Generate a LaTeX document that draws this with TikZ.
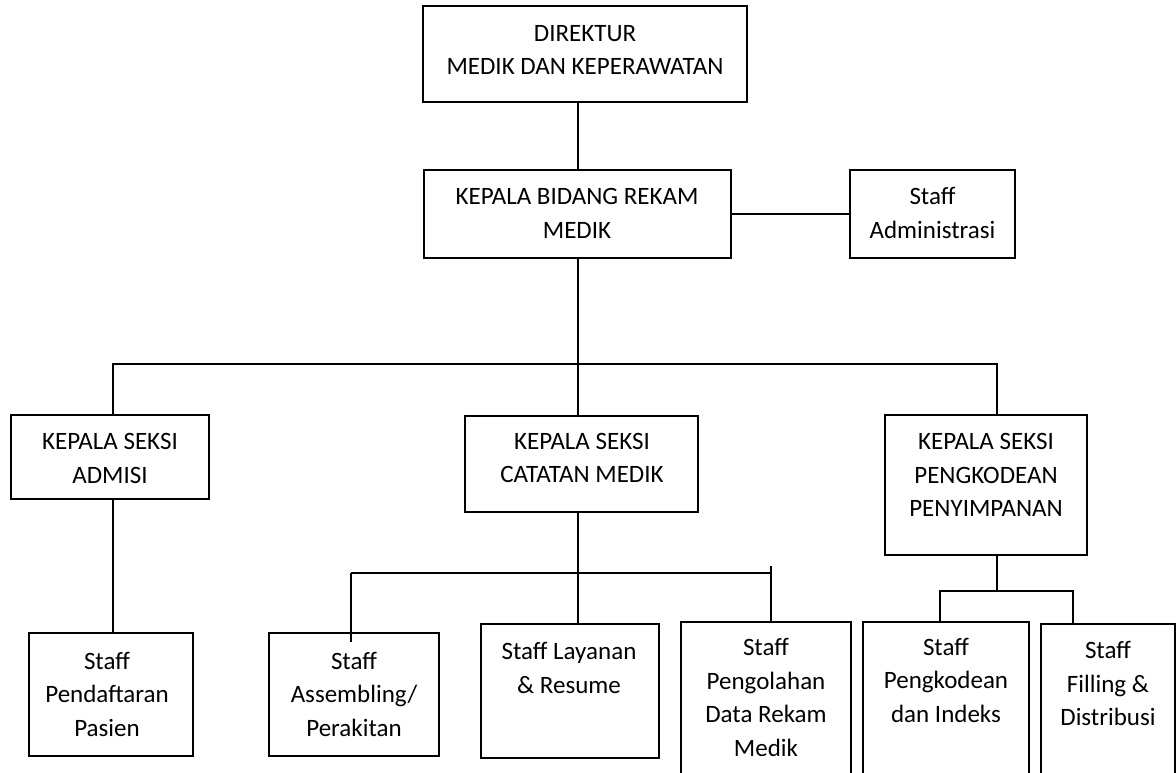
\documentclass[tikz,border=0pt]{standalone}
\usepackage{fontspec}
\setmainfont{Carlito}
\begin{document}
\begin{tikzpicture}[x=1pt,y=-1pt,
  box/.style={draw=black, line width=2pt, rectangle, inner sep=0pt},
  txt/.style={align=center, inner sep=0pt, text=black, font=\fontsize{25}{33.5}\selectfont},
  conn/.style={draw=black, line width=2pt}]
\useasboundingbox (0,0) rectangle (1176,773);
% boxes
\node[box, minimum width=324pt, minimum height=96pt] (dir) at (585,54) {};
\node[box, minimum width=307pt, minimum height=88pt] (kb) at (577.5,214) {};
\node[box, minimum width=165pt, minimum height=87pt] (sa) at (932.5,214) {};
\node[box, minimum width=198pt, minimum height=84pt] (adm) at (110,457) {};
\node[box, minimum width=233pt, minimum height=96pt] (cat) at (581.5,464) {};
\node[box, minimum width=202pt, minimum height=140pt] (pkd) at (986,485) {};
\node[box, minimum width=164pt, minimum height=123pt] (pnd) at (111,694.5) {};
\node[box, minimum width=170pt, minimum height=123pt] (asm) at (354,694.5) {};
\node[box, minimum width=178pt, minimum height=134pt] (lay) at (570,691) {};
\node[box, minimum width=170pt, minimum height=168pt] (pgl) at (766,706) {};
\node[box, minimum width=166pt, minimum height=168pt] (spk) at (946,706) {};
\node[box, minimum width=134pt, minimum height=166pt] (sfd) at (1108,707) {};
% texts
\node[txt] (tdir) at (585,51.4) {\strut DIREKTUR\\MEDIK DAN KEPERAWATAN\strut};
\node[txt] (tkb) at (577,214.9) {\strut KEPALA BIDANG REKAM\\MEDIK\strut};
\node[txt] (tsa) at (932.5,214.9) {\strut Staff\\Administrasi\strut};
\node[txt] (tadm) at (110,459.9) {\strut KEPALA SEKSI\\ADMISI\strut};
\node[txt] (tcat) at (582,459.4) {\strut KEPALA SEKSI\\CATATAN MEDIK\strut};
\node[txt] (tpkd) at (986,476.4) {\strut KEPALA SEKSI\\PENGKODEAN\\PENYIMPANAN\strut};
\node[txt] (tpnd) at (107,695.9) {\strut Staff\\Pendaftaran\\Pasien\strut};
\node[txt] (tasm) at (354,695.9) {\strut Staff\\Assembling/\\Perakitan\strut};
\node[txt] (tlay) at (569,669.9) {\strut Staff Layanan\\\& Resume\strut};
\node[txt] (tpgl) at (766,699.4) {\strut Staff\\Pengolahan\\Data Rekam\\Medik\strut};
\node[txt] (tspk) at (946,682.1) {\strut Staff\\Pengkodean\\dan Indeks\strut};
\node[txt] (tsfd) at (1108,685.4) {\strut Staff\\Filling \&\\Distribusi\strut};
% bus coordinates
\coordinate (busL) at (113,364);
\coordinate (busR) at (997,364);
\coordinate (cbL) at (351,573);
\coordinate (cbR) at (771,573);
\coordinate (cbTop) at (771,566);
\coordinate (asmIn) at (351,642);
\coordinate (pbL) at (940,591);
\coordinate (pbR) at (1073,591);
% connectors
\draw[conn] (dir.south -| kb.north) -- (kb.north);
\draw[conn] (kb.east) -- (sa.west);
\draw[conn] (kb.south) -- (kb.south |- busL);
\draw[conn] (busL |- adm.north) -- (busL) -- (busR) -- (busR |- pkd.north);
\draw[conn] (kb.south |- busL) -- (kb.south |- cat.north);
\draw[conn] (busL |- adm.south) -- (busL |- pnd.north);
\draw[conn] (kb.south |- cat.south) -- (kb.south |- lay.north);
\draw[conn] (cbL) -- (cbR);
\draw[conn] (cbL) -- (asmIn);
\draw[conn] (cbTop) -- (cbR |- pgl.north);
\draw[conn] (busR |- pkd.south) -- (busR |- pbL);
\draw[conn] (pbL |- spk.north) -- (pbL) -- (pbR) -- (pbR |- sfd.north);
\end{tikzpicture}
\end{document}
